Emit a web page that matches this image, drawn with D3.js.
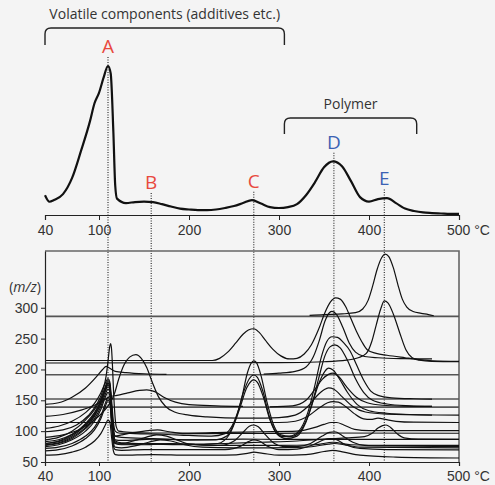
<!DOCTYPE html>
<html>
<head>
<meta charset="utf-8">
<script src="https://cdn.jsdelivr.net/npm/d3@7"></script>
<style>
  body { margin: 0; background: #f4f4f4; }
  svg { display: block; font-family: "Open Sans", "Noto Sans", sans-serif; }
  .axis text { font-size: 14px; fill: #333; }
  .axis path, .axis line { stroke: #222; }
</style>
</head>
<body>
<div id="chart"></div>
<script>
// ---- data ----
var tempTicks = [40, 100, 200, 300, 400, 500];
var mzTicks = [50, 100, 150, 200, 250, 300];

// top panel: total ion curve (relative intensity)
var topTemps = [40, 45, 50, 60, 70, 80, 90, 95, 100, 105, 110, 113, 116, 118, 120, 130, 140, 150, 160, 170,
  180, 190, 200, 210, 220, 230, 240, 250, 260, 270, 280, 290, 300, 310, 320, 330, 340, 350, 360, 370,
  380, 390, 400, 410, 420, 430, 440, 450, 460, 470, 480, 490, 500];
var topIntensity = [13.3, 8.9, 10, 14, 24.7, 43, 63, 75, 82, 92, 100, 95, 55, 20, 11, 8, 8.7, 9, 8.7, 7.3,
  5.7, 4.3, 3.7, 3.3, 3.3, 3.7, 4.7, 6, 8, 10, 7.7, 5.3, 4.7, 5.3, 7.3, 13.3, 22, 32, 36, 32.7,
  22.7, 12, 9, 10.7, 11.3, 8, 4.3, 2.7, 1.7, 1.3, 1, 0.7, 0.7];

var peakNames = ["A", "B", "C", "D", "E"];
var peakTemps = [110, 158, 272, 361, 417];
var peakGroup = ["volatile", "volatile", "volatile", "polymer", "polymer"];

// brackets: [start °C, end °C]
var volatileRange = [40, 306];
var polymerRange = [306, 453];

// bottom panel: flat baselines (m/z)
var flatLevels = [286, 191.5, 152, 139];

// bottom panel: traces as [°C, m/z offset]
var trE1 = [[334,287.5],[350,289],[370,290],[385,292],[393,298],[399,312],[404,335],[409,362],[414,381],[418,387],[422,383],[427,365],[432,338],[437,314],[442,301],[449,294],[458,291],[466,289],[472,287]];
var trCD = [[40,214.5],[226,214.5],[234,218],[243,228],[252,243],[260,257],[266,264],[272,266],[278,260],[285,247],[293,233],[302,222],[312,217],[320,218],[328,225],[336,240],[344,265],[351,292],[357,309],[363,316],[368,314],[374,302],[380,282],[386,262],[392,245],[398,232],[408,226],[420,223],[440,219],[456,216],[470,214],[500,213]];
var trE2 = [[40,210.5],[300,211],[350,212.5],[375,215],[388,219],[397,226],[403,245],[408,272],[413,298],[417,311],[421,308],[427,290],[434,260],[441,232],[448,219],[456,215],[470,213],[500,212.5]];
var trD2 = [[283,192.5],[300,194],[318,197],[330,204],[338,220],[345,248],[351,278],[356,292],[359,294],[364,289],[371,268],[378,243],[385,228],[395,221],[410,219],[440,217.5],[470,217]];
var trD3 = [[40,104.5],[55,108],[70,116],[85,130],[95,145],[102,162],[107,178],[110,185],[112,180],[114,150],[116,115],[118,100],[122,97],[140,96],[170,95],[200,93],[225,92],[240,96],[250,115],[258,150],[265,195],[269,210],[272,214],[275,211],[280,190],[287,145],[294,110],[302,94],[312,92],[322,100],[332,130],[340,175],[347,220],[353,245],[359,253],[365,252],[372,243],[379,230],[386,208],[394,183],[402,165],[410,158],[425,154],[450,152.5],[470,152]];
var trD4 = [[40,86],[55,90],[70,100],[85,118],[95,135],[102,152],[107,170],[110,178],[112,174],[114,140],[116,105],[118,92],[125,90],[160,88],[200,86],[230,86],[242,92],[252,120],[261,165],[267,185],[272,191],[276,187],[282,165],[289,125],[296,100],[305,91],[316,92],[326,105],[336,140],[344,185],[351,222],[357,237],[362,240],[368,235],[376,215],[385,185],[394,163],[404,150],[420,144],[445,141],[470,140]];
var trD5 = [[40,80],[55,84],[70,94],[85,112],[95,130],[102,148],[107,166],[110,175],[112,170],[114,135],[116,98],[118,84],[125,81],[160,79],[200,78],[232,80],[245,95],[256,135],[264,170],[269,181],[272,183],[276,179],[282,158],[290,118],[298,95],[308,88],[320,92],[330,115],[338,150],[345,180],[351,197],[355,202],[360,199],[367,185],[376,163],[387,143],[400,133],[420,129],[445,127],[500,126]];
var trD6 = [[290,139.5],[315,141],[330,150],[340,168],[348,184],[355,192],[360,194],[366,189],[375,172],[386,155],[398,146],[415,142],[440,140.5],[470,140]];
var trB1 = [[40,90],[60,94],[80,104],[95,118],[105,132],[112,145],[117,160],[122,185],[128,208],[134,220],[141,224],[147,218],[153,203],[159,180],[166,156],[174,140],[184,131],[200,126],[220,123],[240,121.5],[270,121],[300,122],[318,126],[332,140],[342,157],[350,167],[355,170],[361,168],[370,156],[382,140],[396,131],[420,127.5],[470,126]];
var trB2 = [[40,124],[60,127],[80,134],[95,142],[105,150],[112,156],[120,158],[132,162],[145,166],[153,167],[162,164],[172,155],[185,147],[200,143],[230,141],[260,140]];
var trA1 = [[40,143.5],[55,146],[70,155],[85,170],[97,188],[104,200],[108,205],[112,202],[118,197],[130,195],[150,193],[175,192]];
var trSpike = [[40,99],[60,102],[75,110],[88,125],[98,145],[104,165],[108,190],[110,213],[112,238],[113,242],[114,232],[115,205],[116,170],[117.5,130],[119,108],[122,100],[135,98],[160,97],[200,97],[240,98],[280,99],[320,100],[340,106],[350,111],[358,114],[364,114],[372,110],[384,103],[400,101],[440,101],[500,100.8]];
var trD8 = [[40,114],[120,114],[300,114],[318,116],[332,124],[344,137],[354,146],[360,148],[366,147],[374,140],[384,128],[394,120],[402,119],[410,121],[418,119],[430,116],[450,114.5],[500,114]];
var trB3 = [[40,77],[55,80],[70,88],[85,104],[95,120],[102,140],[107,160],[110,168],[112,164],[114,130],[116,100],[118,92],[125,94],[140,98],[155,101],[165,102],[178,99],[195,96],[220,96],[260,96.5],[300,96.5],[340,97],[500,96.6]];
var trE3 = [[40,75],[55,78],[70,86],[85,100],[95,116],[102,135],[107,155],[110,163],[112,158],[114,120],[116,88],[118,80],[125,79],[160,80],[200,79],[240,80],[280,82],[320,84],[350,87],[375,89],[395,91],[403,96],[410,105],[415,109],[419,110],[424,106],[431,96],[439,89],[455,87],[500,86.8]];
var trC5 = [[40,83],[55,86],[70,95],[85,110],[95,126],[102,145],[107,165],[110,172],[112,168],[114,132],[116,92],[118,80],[125,78],[150,78],[180,80],[210,78],[235,77],[250,84],[260,98],[267,108],[272,110],[277,107],[285,94],[295,80],[305,75],[320,75],[335,80],[348,92],[356,98],[362,99],[370,93],[382,82],[395,77],[420,76],[500,75]];
var trC6 = [[40,68],[55,70],[70,76],[85,88],[95,102],[102,120],[107,140],[110,150],[112,146],[114,110],[116,76],[118,70],[125,69],[150,70],[200,70],[240,70],[258,76],[266,83],[272,86],[278,84],[288,75],[300,70],[320,71],[338,78],[350,86],[357,88],[364,86],[374,78],[390,72],[420,70],[500,69.5]];
var trC7 = [[40,61],[55,62],[70,66],[85,74],[95,84],[102,96],[107,110],[110,118],[112,115],[114,90],[116,68],[118,62],[125,61],[160,62],[200,61],[240,61],[265,64],[272,66],[282,64],[300,61],[330,62],[350,67],[360,69],[372,66],[390,61],[430,58],[500,56.5]];
var trB4 = [[40,72],[55,74],[70,80],[85,92],[95,106],[102,124],[107,145],[110,155],[112,150],[114,115],[116,82],[118,74],[125,73],[140,76],[155,82],[168,86],[180,84],[195,78],[215,74],[250,73],[290,73],[330,74],[355,79],[362,80],[372,78],[390,74],[500,73]];
var trB5 = [[40,78],[55,81],[70,90],[85,106],[95,124],[102,145],[107,168],[110,178],[112,173],[114,135],[116,95],[118,82],[125,80],[140,85],[152,90],[164,94],[175,92],[188,85],[200,79],[230,77],[270,77],[300,77],[340,78],[360,82],[380,78],[420,77],[500,77]];
var trA2 = [[40,80],[55,83],[70,92],[85,110],[95,128],[102,150],[107,172],[110,182],[112,177],[114,140],[116,100],[118,86],[125,85],[160,87],[200,86],[260,87],[300,86.8],[500,86.8]];

var msTraces = [trE1, trCD, trE2, trD2, trD3, trD4, trD5, trD6, trB1, trB2, trA1, trSpike,
  trD8, trB3, trE3, trC5, trC6, trC7, trB4, trB5, trA2];

// ---- layout ----
var svgWidth = 495, svgHeight = 485;
var svg = d3.select("#chart").append("svg")
  .attr("width", svgWidth)
  .attr("height", svgHeight);

svg.append("rect").attr("width", svgWidth).attr("height", svgHeight).attr("fill", "#f4f4f4");

var xScale = d3.scaleLinear().domain([40, 500]).range([45, 459]);
var yTop = d3.scaleLinear().domain([0, 100]).range([215, 66]);
var yMs = d3.scaleLinear().domain([50, 392]).range([462, 251]);

var red = "#e8493e", blue = "#3b62b3";

// interpolated top-curve intensity at a temperature
function topAt(t) {
  var i = d3.bisectLeft(topTemps, t);
  if (topTemps[i] === t) return topIntensity[i];
  var t0 = topTemps[i - 1], t1 = topTemps[i];
  var k = (t - t0) / (t1 - t0);
  return topIntensity[i - 1] * (1 - k) + topIntensity[i] * k;
}

// dotted guide lines
svg.selectAll(".guide")
  .data(peakTemps)
  .enter().append("line")
  .attr("class", "guide")
  .attr("x1", function(d){ return xScale(d); })
  .attr("x2", function(d){ return xScale(d); })
  .attr("y1", function(d){ return yTop(topAt(d)) - 9; })
  .attr("y2", yMs(50))
  .attr("stroke", "#222")
  .attr("stroke-width", 1.1)
  .attr("stroke-dasharray", "1,1.5");

// top curve
var topLine = d3.line()
  .x(function(d, i){ return xScale(topTemps[i]); })
  .y(function(d){ return yTop(d); })
  .curve(d3.curveMonotoneX);

svg.append("path")
  .datum(topIntensity)
  .attr("d", topLine)
  .attr("fill", "none")
  .attr("stroke", "#111")
  .attr("stroke-width", 2.2);

// peak letters
svg.selectAll(".peak")
  .data(peakNames)
  .enter().append("text")
  .attr("class", "peak")
  .attr("x", function(d, i){ return xScale(peakTemps[i]); })
  .attr("y", function(d, i){ return yTop(topAt(peakTemps[i])) - 13; })
  .attr("text-anchor", "middle")
  .attr("font-size", "19px")
  .attr("fill", function(d, i){ return peakGroup[i] === "volatile" ? red : blue; })
  .text(function(d){ return d; });

// top axis
var topAxis = svg.append("g")
  .attr("class", "axis")
  .attr("transform", "translate(0," + 215 + ")")
  .call(d3.axisBottom(xScale).tickValues(tempTicks).tickSize(5).tickPadding(5)
    .tickFormat(function(d){ return d === 500 ? "500 °C" : d; }));
topAxis.select(".domain").attr("stroke-width", 1.2);

// brackets
function bracket(range, top, legs, label) {
  var x0 = xScale(range[0]), x1 = xScale(range[1]), r = 6;
  svg.append("path")
    .attr("d", "M" + x0 + "," + legs + " L" + x0 + "," + (top + r) +
      " Q" + x0 + "," + top + " " + (x0 + r) + "," + top +
      " L" + (x1 - r) + "," + top +
      " Q" + x1 + "," + top + " " + x1 + "," + (top + r) +
      " L" + x1 + "," + legs)
    .attr("fill", "none")
    .attr("stroke", "#222")
    .attr("stroke-width", 1.4);
  svg.append("text")
    .attr("x", (x0 + x1) / 2)
    .attr("y", top - 9)
    .attr("text-anchor", "middle")
    .attr("font-size", "14px")
    .attr("fill", "#333")
    .text(label);
}
bracket(volatileRange, 28, 45, "Volatile components (additives etc.)");
bracket(polymerRange, 118, 134, "Polymer");

// bottom panel frame
svg.append("path")
  .attr("d", "M" + xScale(40) + "," + yMs(392) + " L" + xScale(500) + "," + yMs(392) + " L" + xScale(500) + "," + yMs(50))
  .attr("fill", "none")
  .attr("stroke", "#666")
  .attr("stroke-width", 1.6);

// flat baselines
svg.selectAll(".flat")
  .data(flatLevels)
  .enter().append("line")
  .attr("class", "flat")
  .attr("x1", xScale(40))
  .attr("x2", xScale(500))
  .attr("y1", function(d){ return yMs(d); })
  .attr("y2", function(d){ return yMs(d); })
  .attr("stroke", "#555")
  .attr("stroke-width", 1.6);

// traces
var msLine = d3.line()
  .x(function(d){ return xScale(d[0]); })
  .y(function(d){ return yMs(d[1]); })
  .curve(d3.curveMonotoneX);

svg.selectAll(".trace")
  .data(msTraces)
  .enter().append("path")
  .attr("class", "trace")
  .attr("d", msLine)
  .attr("fill", "none")
  .attr("stroke", "#111")
  .attr("stroke-width", 1.2);

// bottom axes
var bottomAxis = svg.append("g")
  .attr("class", "axis")
  .attr("transform", "translate(0," + yMs(50) + ")")
  .call(d3.axisBottom(xScale).tickValues(tempTicks).tickSize(4).tickPadding(5)
    .tickFormat(function(d){ return d === 500 ? "500 °C" : d; }));
bottomAxis.select(".domain").attr("stroke-width", 1.2);

var leftAxis = svg.append("g")
  .attr("class", "axis")
  .attr("transform", "translate(" + xScale(40) + ",0)")
  .call(d3.axisLeft(yMs).tickValues(mzTicks).tickSize(4).tickPadding(3).tickSizeOuter(0));
leftAxis.select(".domain").attr("stroke-width", 1.2);

// shift the "500 °C" labels so the number sits on its tick
svg.selectAll(".axis .tick text")
  .filter(function(d){ return d === 500 && this.textContent.indexOf("°C") > 0; })
  .attr("text-anchor", "start")
  .attr("x", -12.5);

// (m/z) label
var mz = svg.append("text")
  .attr("x", 25)
  .attr("y", yMs(300) - 16)
  .attr("text-anchor", "middle")
  .attr("font-size", "14px")
  .attr("fill", "#333");
mz.append("tspan").text("(");
mz.append("tspan").attr("font-style", "italic").text("m/z");
mz.append("tspan").text(")");
</script>
</body>
</html>
